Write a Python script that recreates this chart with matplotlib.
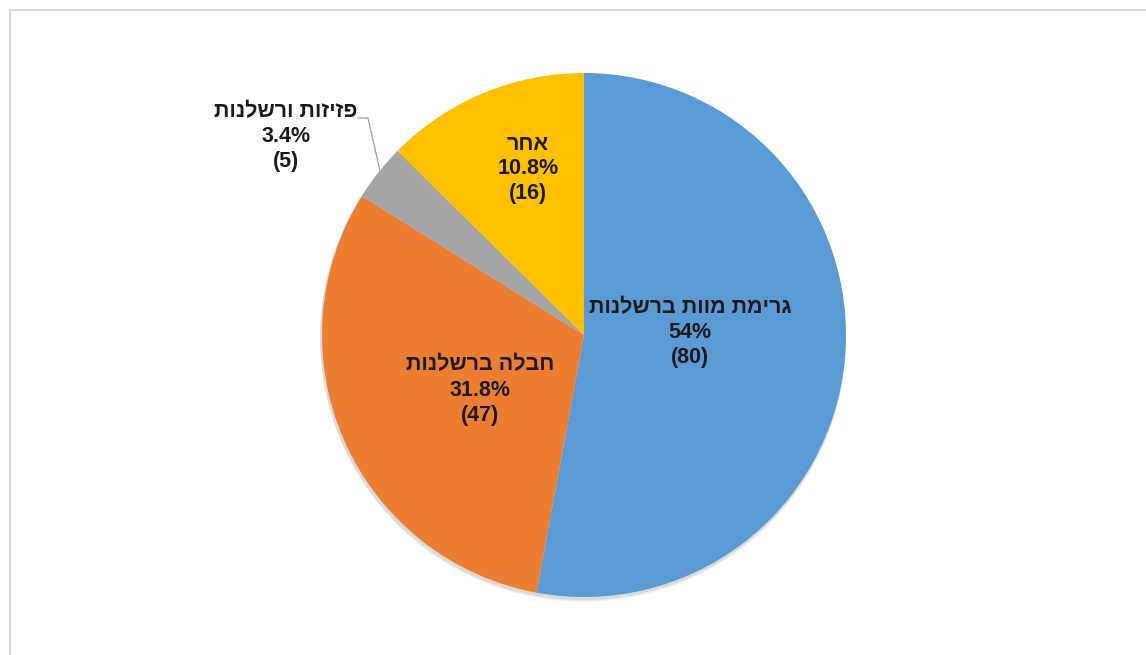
import matplotlib
matplotlib.use('Agg')
import matplotlib.pyplot as plt
from matplotlib.patches import Rectangle, Circle

# data
categories = ['גרימת מוות ברשלנות', 'חבלה ברשלנות', 'פזיזות ורשלנות', 'אחר']
counts = [80, 47, 5, 16]
percents = ['54%', '31.8%', '3.4%', '10.8%']
# slice sizes as actually drawn in the picture (measured angles, %)
wedge_sizes = [52.9, 31.0, 3.5, 12.6]
colors = ['#5B9BD5', '#ED7D31', '#A5A5A5', '#FFC000']

W, H = 1146, 655
fig = plt.figure(figsize=(W / 100, H / 100), dpi=100)
ax = fig.add_axes([0, 0, 1, 1])

# pie centre / radius in pixel units (y measured from bottom)
cx, cy, r = 584, H - 335, 262

# faint drop shadow like excel
for k, a in [(4, 0.04), (3, 0.05), (2, 0.06)]:
    ax.add_patch(Circle((cx - 1, cy - k), r + 1, color='black', alpha=a, lw=0))

ax.pie(wedge_sizes, colors=colors, startangle=90, counterclock=False,
       center=(cx, cy), radius=r, frame=True,
       wedgeprops=dict(linewidth=0))
ax.set_xlim(0, W)
ax.set_ylim(0, H)
ax.set_aspect('equal')
ax.axis('off')

# label positions (pixel coords from top-left)
label_pos = [(690, 333), (480, 390), (286, 137), (528, 169)]
font = ['Liberation Sans', 'DejaVu Sans']
for cat, pct, n, (x, y) in zip(categories, percents, counts, label_pos):
    # matplotlib has no bidi, so flip hebrew into visual order
    txt = cat[::-1] + '\n' + pct + '\n(' + str(n) + ')'
    ax.text(x, H - y, txt, ha='center', va='center', fontsize=15.5,
            fontweight='bold', color='#1a1a1a', family=font,
            linespacing=1.25)

# leader line for the small slice
ax.plot([358, 368, 380], [H - 118, H - 118, H - 171], color='#a6a6a6', lw=1)

# chart area border
ax.add_patch(Rectangle((9.5, -5), W, H - 9.5 + 5, fill=False,
                       edgecolor='#d9d9d9', lw=1.5, clip_on=False))

fig.savefig('out.png', dpi=100)
